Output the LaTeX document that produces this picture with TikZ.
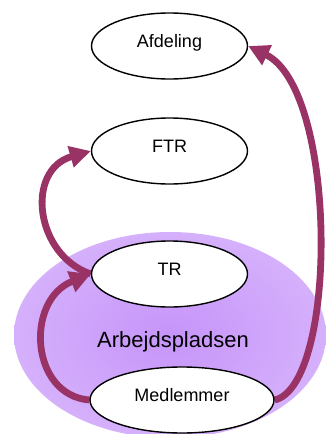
\documentclass[tikz,border=0pt]{standalone}
\usepackage{fontspec}
\setmainfont{Liberation Sans}
\usetikzlibrary{arrows.meta,shapes.geometric}
\definecolor{arrowc}{RGB}{153,51,102}
\definecolor{bgin}{RGB}{198,148,250}
\definecolor{bgout}{RGB}{228,204,252}
\pgfdeclareradialshading{bgshade}{\pgfpoint{0bp}{0bp}}{color(0bp)=(bgin); color(50bp)=(bgout)}
\pgfdeclarelayer{back}
\pgfdeclarelayer{mid}
\pgfsetlayers{back,mid,main}
\begin{document}
\begin{tikzpicture}[x=1pt,y=-1pt,
  ell/.style={draw=black, line width=1.4pt, fill=white, ellipse, inner sep=0pt,
    minimum height=66pt, font=\fontsize{18}{18}\selectfont, text height=14pt, text depth=12pt},
  conn/.style={draw=arrowc, line width=6.8pt, -{Triangle[length=21pt,width=21pt]}}]
\useasboundingbox (0,0) rectangle (326,434);
\begin{pgfonlayer}{back}
  \clip (0,0) rectangle (326,434);
  \shade[shading=bgshade] (170,335) ellipse [x radius=156pt, y radius=103pt];
\end{pgfonlayer}
\node[font=\fontsize{22}{22}\selectfont] (arb) at (173,342) {Arbejdspladsen};
\node[ell, minimum width=156pt] (afd) at (169.5,46) {Afdeling};
\node[ell, minimum width=156pt] (ftr) at (169.5,151) {FTR};
\node[ell, minimum width=156pt] (tr) at (169.5,274) {TR};
\node[ell, minimum width=184pt] (med) at (182,400) {Medlemmer};
\begin{pgfonlayer}{mid}
  \draw[conn] (med.east) .. controls (338,385) and (338,90) .. (afd.east);
  \draw[conn] (med.west) .. controls (30,395) and (25,300) .. (tr.west);
  \draw[conn] (tr.west) .. controls (35,255) and (25,170) .. (ftr.west);
\end{pgfonlayer}
\end{tikzpicture}
\end{document}
